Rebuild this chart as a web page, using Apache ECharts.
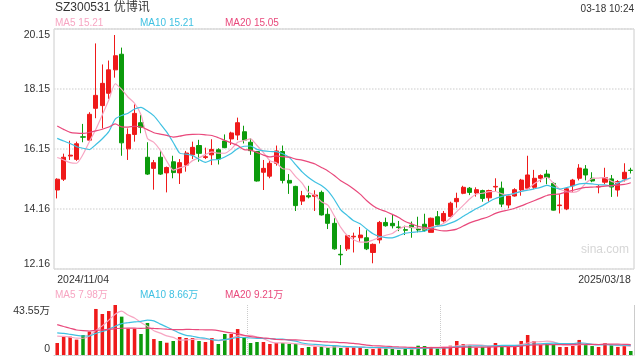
<!DOCTYPE html>
<html>
<head>
<meta charset="utf-8">
<script src="https://cdn.jsdelivr.net/npm/echarts@6/dist/echarts.min.js"></script>
<style>html,body{margin:0;padding:0;background:#fff;}#c{width:640px;height:360px;}</style>
</head>
<body>
<div id="c"></div>
<script>
// ---- data ----
var dates = [
'2024/11/04','2024/11/05','2024/11/06','2024/11/07','2024/11/08','2024/11/11','2024/11/12','2024/11/13','2024/11/14','2024/11/15',
'2024/11/18','2024/11/19','2024/11/20','2024/11/21','2024/11/22','2024/11/25','2024/11/26','2024/11/27','2024/11/28','2024/11/29',
'2024/12/02','2024/12/03','2024/12/04','2024/12/05','2024/12/06','2024/12/09','2024/12/10','2024/12/11','2024/12/12','2024/12/13',
'2024/12/16','2024/12/17','2024/12/18','2024/12/19','2024/12/20','2024/12/23','2024/12/24','2024/12/25','2024/12/26','2024/12/27',
'2024/12/30','2024/12/31','2025/01/02','2025/01/03','2025/01/06','2025/01/07','2025/01/08','2025/01/09','2025/01/10','2025/01/13',
'2025/01/14','2025/01/15','2025/01/16','2025/01/17','2025/01/20','2025/01/21','2025/01/22','2025/01/23','2025/01/24','2025/01/27',
'2025/02/05','2025/02/06','2025/02/07','2025/02/10','2025/02/11','2025/02/12','2025/02/13','2025/02/14','2025/02/17','2025/02/18',
'2025/02/19','2025/02/20','2025/02/21','2025/02/24','2025/02/25','2025/02/26','2025/02/27','2025/02/28','2025/03/03','2025/03/04',
'2025/03/05','2025/03/06','2025/03/07','2025/03/10','2025/03/11','2025/03/12','2025/03/13','2025/03/14','2025/03/17','2025/03/18'];

var opens = [14.79,15.15,15.92,15.81,16.56,16.45,17.51,17.60,18.01,18.79,
19.31,16.16,16.64,17.03,15.88,15.51,15.88,15.36,15.73,15.36,
15.62,15.96,16.27,15.87,15.96,16.13,16.42,16.49,16.62,16.73,
16.38,16.07,15.38,15.25,15.68,16.07,15.11,14.91,14.42,14.60,
14.58,14.71,13.98,13.68,12.65,12.83,13.23,13.20,13.20,12.71,
13.13,13.71,13.68,13.56,13.47,13.62,13.50,13.65,13.38,13.90,
13.76,13.91,14.40,14.68,14.85,14.69,14.77,14.53,14.89,14.85,
14.29,14.59,14.79,14.85,14.88,15.18,15.32,15.01,14.27,14.16,
14.93,15.18,15.49,15.18,14.89,15.05,15.16,14.79,15.16,15.45];

var closes = [15.15,15.88,15.95,16.33,16.55,17.31,17.94,18.34,18.79,19.26,
16.36,16.64,17.34,16.88,15.32,15.70,15.32,15.54,15.37,15.70,
16.02,16.21,16.01,15.90,16.14,15.82,16.20,16.69,17.03,16.45,
16.10,15.09,15.51,15.68,16.09,15.11,15.02,14.27,14.60,14.56,
14.62,13.96,13.68,12.83,12.63,13.27,13.25,13.29,12.83,12.98,
13.71,13.60,13.60,13.54,13.45,13.54,13.46,13.45,13.85,13.63,
14.01,14.35,14.51,14.88,14.71,14.80,14.51,14.77,14.91,14.32,
14.59,14.80,15.12,15.29,15.18,15.27,15.21,14.12,14.29,14.83,
15.12,15.52,15.29,15.09,14.91,15.20,14.89,15.07,15.38,15.44];

var lows = [14.51,15.09,15.79,15.76,16.38,16.40,17.18,16.84,17.82,18.53,
15.93,15.79,16.40,16.68,15.29,14.80,15.29,14.71,15.18,14.99,
15.40,15.82,15.73,15.82,15.62,15.64,16.18,16.29,16.45,16.34,
15.96,15.07,14.79,15.18,15.60,15.01,14.66,14.09,14.29,14.51,
14.09,13.94,13.49,12.80,12.29,12.76,12.71,13.07,12.79,12.35,
13.01,13.57,13.51,13.42,13.29,13.20,13.38,13.40,13.38,13.60,
13.71,13.90,14.20,14.65,14.62,14.57,14.40,14.40,14.76,14.22,
14.18,14.57,14.60,14.81,14.82,15.05,14.98,14.11,14.01,14.12,
14.73,15.11,15.11,15.05,14.68,14.98,14.56,14.57,15.07,15.34];

var highs = [15.18,16.00,16.43,16.40,16.99,17.38,19.67,18.97,19.10,19.95,
19.53,16.84,17.64,17.29,16.38,15.79,16.09,15.57,15.93,15.82,
16.09,16.40,16.46,16.20,16.48,16.18,16.64,16.73,17.20,16.93,
16.51,16.09,15.79,15.79,16.27,16.27,15.32,14.93,14.76,14.93,
14.78,14.77,14.18,13.85,12.96,13.29,13.37,13.56,13.45,13.01,
13.76,13.87,13.96,13.76,13.60,13.74,13.90,14.00,13.87,14.09,
14.09,14.40,14.70,14.93,14.89,14.88,14.80,14.80,15.18,15.07,
14.62,14.85,15.16,15.93,15.46,15.31,15.46,15.05,14.65,14.87,
15.16,15.65,15.62,15.38,14.96,15.53,15.29,15.12,15.68,15.53];

// volume, unit 万
var volumes = [10.45,15.7,16.0,13.4,17.4,20.3,40.1,35.7,38.3,43.55,
33.4,22.9,22.9,18.3,27.9,13.9,12.2,10.7,12.2,15.7,
14.8,14.8,12.2,11.3,14.8,9.6,18.3,18.3,22.6,15.7,
10.45,11.3,11.3,9.6,10.45,10.45,9.6,9.6,6.1,7.0,
7.3,7.0,6.4,8.1,6.1,7.0,7.0,6.4,5.2,5.2,
7.0,5.8,5.2,4.4,5.8,4.9,8.1,7.8,7.0,5.5,
7.0,8.1,12.2,9.6,8.1,6.4,7.0,7.5,10.45,7.5,
7.5,7.5,12.2,17.4,12.2,8.7,9.6,9.6,7.0,7.0,
8.1,13.1,9.6,7.8,7.0,10.45,8.7,7.0,8.1,3.5];

// closes / volumes of the 19 sessions before the window (estimated from where the MA lines start)
var priorCloses = [18.10,17.93,16.90,16.70,16.59,17.00,17.20,17.30,17.23,18.35,16.78,16.75,17.43,17.05,17.74,16.28,16.40,16.43,15.09];
var priorVolumes = [48,46,43,30,28,27,29,28,29,28,20,24,22,23,20.5,17,19,18,18.05];

var priceTickLabels = ['12.16','14.16','16.15','18.15','20.15'];
var volTickLabels = ['0','43.55万'];
var maNames = ['MA5','MA10','MA20'];
var maPeriods = [5,10,20];
var maPriceText = ['15.21','15.21','15.05'];
var maVolText = ['7.98万','8.66万','9.21万'];
var titleText = 'SZ300531 优博讯';
var timeText = '03-18 10:24';
var watermarkText = 'sina.com';

// ---- build ----
var UP = '#ef1a1a', DOWN = '#0c9b0c';
var maColors = ['#f7a5c2','#3fc1e2','#e9497c'];
var FONT = 'Arial, "Liberation Sans", "Noto Sans CJK SC", sans-serif';

function ma(prior, arr, n) {
  var full = prior.concat(arr), out = [], off = prior.length;
  for (var i = 0; i < arr.length; i++) {
    var s = 0;
    for (var k = 0; k < n; k++) s += full[off + i - k];
    out.push(+(s / n).toFixed(3));
  }
  return out;
}

var kData = opens.map(function (o, i) { return [o, closes[i], lows[i], highs[i]]; });
var volData = volumes.map(function (v, i) {
  return { value: v, itemStyle: { color: closes[i] >= opens[i] ? UP : DOWN } };
});

var pMin = 12.16, pMax = 20.15, pInt = (pMax - pMin) / 4;
var vMax = 43.55;

var series = [{
  type: 'candlestick', xAxisIndex: 0, yAxisIndex: 0, data: kData, barWidth: '70%',
  itemStyle: { color: UP, color0: DOWN, borderColor: UP, borderColor0: DOWN, borderWidth: 1 }
}];
maPeriods.forEach(function (n, j) {
  series.push({ type: 'line', xAxisIndex: 0, yAxisIndex: 0, data: ma(priorCloses, closes, n),
    showSymbol: false, smooth: 0.2, lineStyle: { width: 1.2, color: maColors[j] }, z: 3 });
});
series.push({ type: 'bar', xAxisIndex: 1, yAxisIndex: 1, data: volData, barWidth: '55%' });
maPeriods.forEach(function (n, j) {
  series.push({ type: 'line', xAxisIndex: 1, yAxisIndex: 1, data: ma(priorVolumes, volumes, n),
    showSymbol: false, smooth: 0.2, lineStyle: { width: 1.2, color: maColors[j] }, z: 3 });
});

var graphics = [
  { type: 'text', left: 55, top: 2, style: { text: titleText, fill: '#333', font: '12px ' + FONT } },
  { type: 'text', right: 6, top: 4, style: { text: timeText, fill: '#333', font: '10px ' + FONT } },
  { type: 'text', left: 581, top: 244, style: { text: watermarkText, fill: '#d6d6d6', font: '12px ' + FONT } }
];
var legX = [55, 140, 225];
maNames.forEach(function (nm, j) {
  graphics.push({ type: 'text', left: legX[j], top: 18, style: { text: nm + ' ' + maPriceText[j], fill: maColors[j], font: '10px ' + FONT } });
  graphics.push({ type: 'text', left: legX[j], top: 290, style: { text: nm + ' ' + maVolText[j], fill: maColors[j], font: '10px ' + FONT } });
});

var chart = echarts.init(document.getElementById('c'), null, { renderer: 'canvas' });
chart.setOption({
  animation: false,
  backgroundColor: '#fff',
  textStyle: { fontFamily: FONT },
  grid: [
    { left: 54, right: 6, top: 29, height: 240, show: true, borderColor: '#cccccc', borderWidth: 1 },
    { left: 54, right: 6, top: 305, height: 50 }
  ],
  xAxis: [{
    type: 'category', gridIndex: 0, data: dates, boundaryGap: true,
    axisLine: { show: false }, axisTick: { show: false }, splitLine: { show: false },
    axisLabel: {
      color: '#333', fontSize: 10.5, margin: 6,
      interval: function (i) { return i === 0 || i === dates.length - 1; },
      alignMinLabel: 'left', alignMaxLabel: 'right'
    }
  }, {
    type: 'category', gridIndex: 1, data: dates, boundaryGap: true, position: 'top',
    axisLine: { show: true, lineStyle: { color: '#cccccc', type: 'dotted' } },
    axisTick: { show: false }, axisLabel: { show: false },
    splitLine: { show: true, interval: function (i) { return i === 30 || i === 60; }, lineStyle: { color: '#cccccc', type: 'dotted' } }
  }],
  yAxis: [{
    type: 'value', gridIndex: 0, min: pMin, max: pMax, interval: pInt,
    axisLine: { show: false }, axisTick: { show: false },
    axisLabel: {
      color: '#333', fontSize: 10.5, margin: 4,
      formatter: function (v) {
        var k = Math.round((v - pMin) / pInt), t = priceTickLabels[k];
        if (k === priceTickLabels.length - 1) return '{t|' + t + '}';
        if (k === 0) return '{b|' + t + '}';
        return t;
      },
      rich: {
        t: { padding: [12, 0, 0, 0], fontSize: 10.5, color: '#333' },
        b: { padding: [0, 0, 10, 0], fontSize: 10.5, color: '#333' }
      }
    },
    splitLine: { show: true, lineStyle: { color: '#dddddd', type: 'dotted', width: 1.5 } }
  }, {
    type: 'value', gridIndex: 1, min: 0, max: vMax, interval: vMax,
    axisLine: { show: false }, axisTick: { show: false },
    axisLabel: {
      color: '#333', fontSize: 10.5, margin: 4,
      formatter: function (v) {
        var k = Math.round(v / vMax), t = volTickLabels[k];
        return k === 1 ? '{t|' + t + '}' : '{b|' + t + '}';
      },
      rich: {
        t: { padding: [12, 0, 0, 0], fontSize: 10.5, color: '#333' },
        b: { padding: [0, 0, 12, 0], fontSize: 10.5, color: '#333' }
      }
    },
    splitLine: { show: false }
  }, {
    type: 'value', gridIndex: 1, min: 0, max: vMax, interval: vMax, position: 'right',
    axisLine: { show: true, lineStyle: { color: '#cccccc', type: 'dotted' } },
    axisTick: { show: false }, axisLabel: { show: false }, splitLine: { show: false }
  }],
  series: series,
  graphic: graphics
});
</script>
</body>
</html>
